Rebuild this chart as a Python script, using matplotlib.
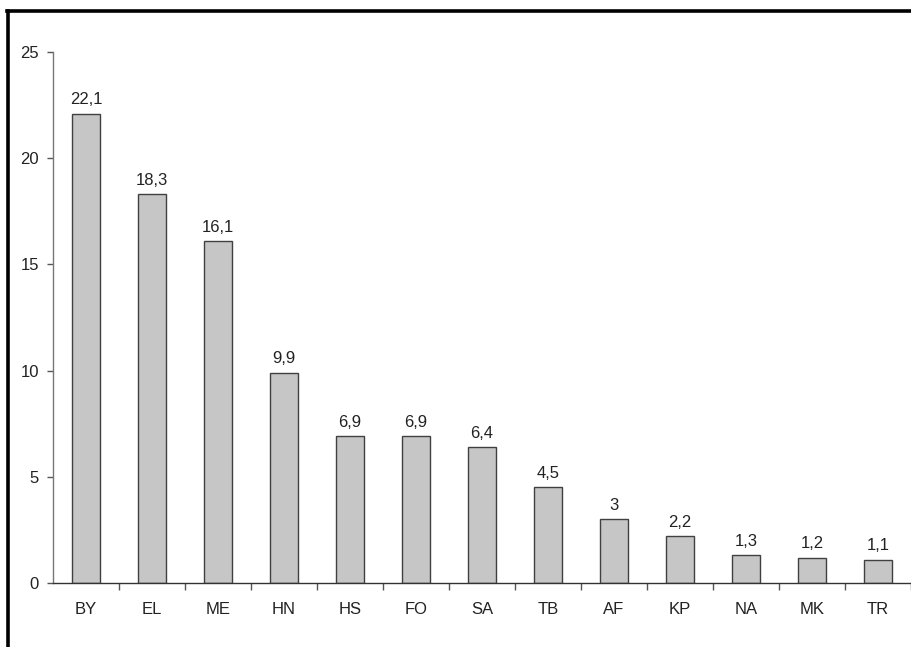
import matplotlib.pyplot as plt
from matplotlib.lines import Line2D
import numpy as np

plt.rcParams['font.family'] = ['Liberation Sans', 'DejaVu Sans']

categories = ['BY', 'EL', 'ME', 'HN', 'HS', 'FO', 'SA', 'TB', 'AF', 'KP', 'NA', 'MK', 'TR']
values = [22.1, 18.3, 16.1, 9.9, 6.9, 6.9, 6.4, 4.5, 3, 2.2, 1.3, 1.2, 1.1]
value_labels = ['22,1', '18,3', '16,1', '9,9', '6,9', '6,9', '6,4', '4,5', '3', '2,2', '1,3', '1,2', '1,1']

W, H = 912, 647
fig = plt.figure(figsize=(W / 100, H / 100), dpi=100)
ax = fig.add_axes([53 / W, (H - 583) / H, (911 - 53) / W, (583 - 52) / H])

x = np.arange(len(categories))
ax.bar(x, values, width=0.41, color='#c6c6c6', edgecolor='#404040', linewidth=1.0, zorder=2)
for xi, v, lab in zip(x, values, value_labels):
    ax.text(xi, v + 0.3, lab, ha='center', va='bottom', fontsize=12, color='#222222')

ax.set_xlim(-0.5, len(categories) - 0.5)
ax.set_ylim(0, 25)
ax.set_yticks([0, 5, 10, 15, 20, 25])
ax.set_xticks(x)
ax.set_xticklabels(categories, fontsize=12, color='#222222')
ax.set_xticks(np.arange(len(categories)) + 0.5, minor=True)
ax.tick_params(axis='x', which='major', length=0, pad=14)
ax.tick_params(axis='x', which='minor', length=5, color='#555555', width=1)
ax.tick_params(axis='y', length=4, color='#555555', width=1, labelsize=12, labelcolor='#222222', pad=6)

for s in ['top', 'right']:
    ax.spines[s].set_visible(False)
ax.spines['left'].set_color('#777777')
ax.spines['bottom'].set_color('#333333')
ax.spines['left'].set_linewidth(1.0)
ax.spines['bottom'].set_linewidth(1.0)

# black frame around the chart (cut off at right and bottom)
fig.add_artist(Line2D([8.5 / W, 8.5 / W], [0, 1 - 10.5 / H], transform=fig.transFigure, color='black', linewidth=2.6))
fig.add_artist(Line2D([7.2 / W, 1], [1 - 10.5 / H, 1 - 10.5 / H], transform=fig.transFigure, color='black', linewidth=2.6))

fig.savefig('out.png', dpi=100)
